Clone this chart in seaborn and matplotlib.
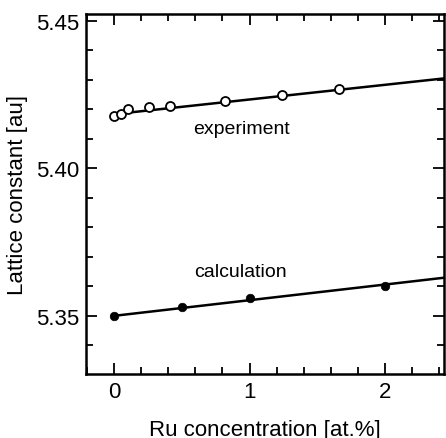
import matplotlib
matplotlib.use("Agg")
import matplotlib.pyplot as plt
from matplotlib.ticker import MultipleLocator
import numpy as np
import pandas as pd
import seaborn as sns

# measured points (open circles)
exp_x = [0.0, 0.05, 0.10, 0.26, 0.41, 0.82, 1.24, 1.66]
exp_y = [5.4177, 5.4186, 5.4200, 5.4209, 5.4213, 5.4229, 5.4248, 5.4268]
exp_fit_x = [0.0, 2.45]
exp_fit_y = [5.4184, 5.4306]

# calculated points (filled circles)
calc_x = [0.0, 0.5, 1.0, 2.0]
calc_y = [5.3500, 5.3531, 5.3561, 5.3600]
calc_fit_x = [0.0, 2.45]
calc_fit_y = [5.3500, 5.3630]

sns.set_style("ticks")
plt.rcParams['font.family'] = ['Liberation Sans', 'DejaVu Sans']
for key in ['text.color', 'axes.labelcolor', 'axes.edgecolor',
            'xtick.color', 'ytick.color']:
    plt.rcParams[key] = 'black'

fig = plt.figure(figsize=(4.46, 4.39), dpi=100)
ax = fig.add_axes([0.193, 0.146, 0.8025, 0.82])

sns.lineplot(x=exp_fit_x, y=exp_fit_y, ax=ax, color='black', linewidth=1.8)
sns.lineplot(x=calc_fit_x, y=calc_fit_y, ax=ax, color='black', linewidth=1.8)
sns.scatterplot(x=exp_x, y=exp_y, ax=ax, marker='o', s=42, facecolor='white',
                edgecolor='black', linewidth=1.3, zorder=3)
sns.scatterplot(x=calc_x, y=calc_y, ax=ax, marker='o', s=38, color='black',
                edgecolor='black', zorder=3)

ax.text(0.94, 5.4136, 'experiment', ha='center', va='center', fontsize=14)
ax.text(0.93, 5.3650, 'calculation', ha='center', va='center', fontsize=14)

ax.set_xlim(-0.207, 2.435)
ax.set_ylim(5.3303, 5.4524)
ax.xaxis.set_major_locator(MultipleLocator(1))
ax.xaxis.set_minor_locator(MultipleLocator(0.2))
ax.yaxis.set_major_locator(MultipleLocator(0.05))
ax.yaxis.set_minor_locator(MultipleLocator(0.01))
ax.yaxis.set_major_formatter(matplotlib.ticker.FormatStrFormatter('%.2f'))
ax.tick_params(which='both', direction='in', top=True, right=True, width=1.3)
ax.tick_params(which='major', length=8, labelsize=16, pad=5)
ax.tick_params(which='minor', length=5)
for s in ax.spines.values():
    s.set_linewidth(1.8)

ax.set_xlabel('Ru concentration [at.%]', fontsize=16, labelpad=12)
ax.set_ylabel('Lattice constant [au]', fontsize=16, labelpad=6)

fig.savefig('out.png', dpi=100)
